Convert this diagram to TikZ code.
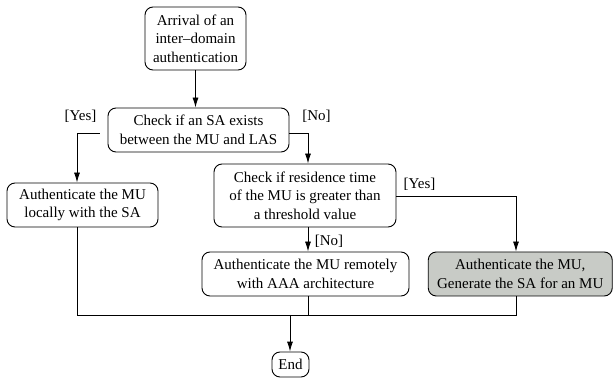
\documentclass[tikz,border=0pt]{standalone}
\usepackage{fontspec}
\setmainfont{Liberation Serif}
\usetikzlibrary{arrows.meta}
\definecolor{boxgray}{RGB}{200,203,198}
\begin{document}
\begin{tikzpicture}[x=1pt,y=-1pt,
  box/.style={draw, line width=0.9pt, rounded corners=8pt, align=center, inner sep=0pt,
    font=\fontsize{15}{18.5}\selectfont},
  lbl/.style={font=\fontsize{15}{18}\selectfont, inner sep=0pt},
  arr/.style={line width=0.9pt, -{Latex[length=10pt,width=6pt]}},
  ln/.style={line width=0.9pt}]
\useasboundingbox (0,0) rectangle (613,379);
\node[box, minimum width=101pt, minimum height=63pt] (b1) at (195.5,38.5)
  {Arrival of an\\inter--domain\\authentication};
\node[box, minimum width=181pt, minimum height=44pt] (b2) at (198.5,130)
  {Check if an SA exists\\between the MU and LAS};
\node[box, minimum width=151pt, minimum height=44pt] (b3) at (82.5,205)
  {Authenticate the MU\\locally with the SA};
\node[box, minimum width=182pt, minimum height=63pt] (b4) at (305,195.5)
  {Check if residence time\\of the MU is greater than\\a threshold value};
\node[box, minimum width=207pt, minimum height=44pt] (b5) at (305.5,274)
  {Authenticate the MU remotely\\with AAA architecture};
\node[box, fill=boxgray, minimum width=184pt, minimum height=44pt] (b6) at (520.25,274)
  {Authenticate the MU,\\Generate the SA for an MU};
\node[box, minimum width=37pt, minimum height=25pt] (end) at (290.5,364.5) {End};

\node[lbl] (y1) at (80.5,116) {[Yes]};
\node[lbl] (n1) at (316.5,116) {[No]};
\node[lbl] (y2) at (419.5,184) {[Yes]};
\node[lbl] (n2) at (329,241.5) {[No]};

\coordinate (j) at (290,315);

\draw[arr] (b1.south) -- (b2.north -| b1.south);
\draw[arr] ([xshift=-8pt,yshift=-3pt]b2.west) -| ([xshift=-5.5pt]b3.north);
\draw[arr] ([yshift=-3pt]b2.east) -| ([xshift=3pt]b4.north);
\draw[arr] ([xshift=3pt]b4.south) -- ([xshift=2.5pt]b5.north);
\draw[arr] ([yshift=-0.5pt]b4.east) -| ([xshift=-4.25pt]b6.north);
\draw[ln] ([xshift=-5.5pt]b3.south) |- ([xshift=-4.25pt]b6.south |- j) -- ([xshift=-4.25pt]b6.south);
\draw[ln] ([xshift=2.5pt]b5.south) -- ([xshift=2.5pt]b5.south |- j);
\draw[arr] (j) -- (end.north -| j);
\end{tikzpicture}
\end{document}
